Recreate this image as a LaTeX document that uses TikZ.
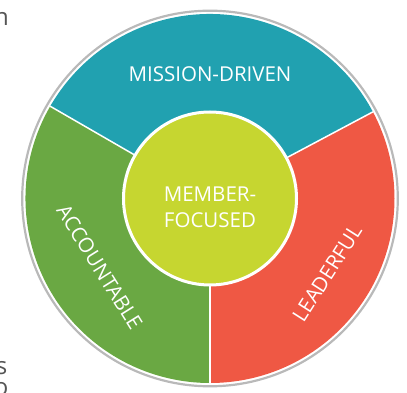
\documentclass[tikz,border=0pt]{standalone}
\usepackage{fontspec}
\setmainfont{Open Sans}
\definecolor{missionteal}{RGB}{33,161,176}
\definecolor{accountgreen}{RGB}{106,168,67}
\definecolor{leadred}{RGB}{239,88,68}
\definecolor{memberlime}{RGB}{198,214,48}
\definecolor{pagegray}{RGB}{85,85,85}

\begin{document}
\begin{tikzpicture}[x=1pt, y=1pt,
    lbl/.style={text=white, font=\fontsize{20.5}{26}\selectfont},
    frag/.style={text=pagegray, font=\fontsize{24}{28}\selectfont, anchor=base east, inner sep=0pt},
    divider/.style={white, line width=1.5pt}]
    \useasboundingbox (-210,-194.5) rectangle (197,198.5);
    \clip (-210,-194.5) rectangle (197,198.5);

    \coordinate (o) at (0,0);
    \coordinate (r) at (28:184.5);
    \coordinate (l) at (150:184.5);
    \coordinate (b) at (270:184.5);

    \fill[missionteal] (o) -- (r) arc[start angle=28, end angle=150, radius=184.5] -- cycle;
    \fill[accountgreen] (o) -- (l) arc[start angle=150, end angle=270, radius=184.5] -- cycle;
    \fill[leadred] (o) -- (b) arc[start angle=270, end angle=388, radius=184.5] -- cycle;
    \draw[divider] (o) to (r);
    \draw[divider] (o) to (l);
    \draw[divider] (o) to (b);
    \draw[gray!55, line width=2.2pt] (o) circle (187.8);

    \fill[memberlime, draw=white, line width=3pt] (o) circle (86.5);

    \node[lbl, anchor=base] (mission) at (0,116.8) {MISSION-DRIVEN};
    \node[lbl, align=center] (member) at (0,-9) {MEMBER-\\FOCUSED};
    \node[lbl, rotate=-58] (account) at (212:130) {ACCOUNTABLE};
    \node[lbl, rotate=57.5] (leader) at (-32.5:139) {LEADERFUL};

    \node[frag] (fragn) at (-201,172.5) {n};
    \node[frag] (frags) at (-202.5,-176.5) {s};
    \node[frag] (frago) at (-201.5,-197.5) {o};
\end{tikzpicture}
\end{document}
